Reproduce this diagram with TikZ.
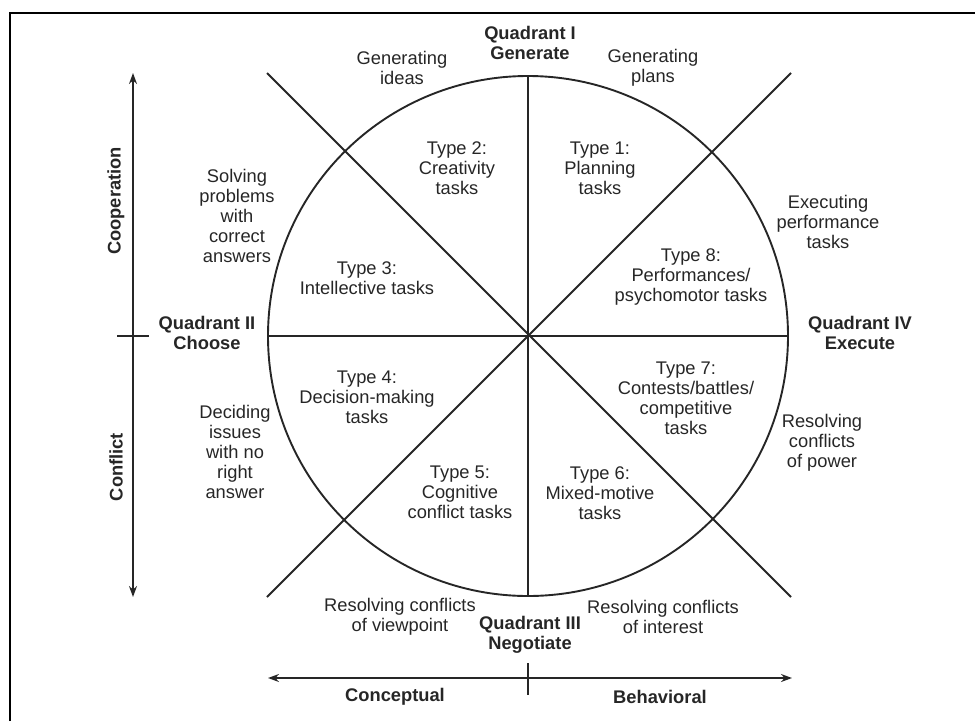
\documentclass[tikz,border=0pt]{standalone}
\usepackage{fontspec}
\setmainfont{Liberation Sans}
\usepackage{tikz}
\usetikzlibrary{arrows.meta,positioning}
\definecolor{ink}{HTML}{262626}
\tikzset{>={Stealth[length=11pt,width=8pt]},
	every node/.style={align=center, text=ink, inner sep=0pt},
	task/.style={font=\fontsize{18.3}{20}\selectfont},
	activity/.style={font=\fontsize{18.3}{20}\selectfont},
	quadrant/.style={font=\fontsize{18.3}{20}\selectfont\bfseries},
	dimension/.style={font=\fontsize{18.3}{20}\selectfont\bfseries, rotate=90},
	spoke/.style={draw=ink, line width=1.8pt},
	axis/.style={draw=ink, line width=1.6pt}}

\begin{document}
\begin{tikzpicture}[x=1pt,y=-1pt]
	\useasboundingbox (0,0) rectangle (975,721);
	\draw[line width=2.2pt] (10,721) -- (10,13) -- (975,13);
	% the wheel
	\node[draw=ink, circle, line width=1.9pt, minimum size=520pt] (wheel) at (528,336) {};
	\coordinate (nw) at (267,73);
	\coordinate (ne) at (791,73);
	\coordinate (sw) at (267,597);
	\coordinate (se) at (791,597);
	\draw[spoke] (wheel.north) -- (wheel.south);
	\draw[spoke] (wheel.west) -- (wheel.east);
	\draw[spoke] (nw) -- (se);
	\draw[spoke] (ne) -- (sw);
	% quadrants
	\node[quadrant] (q1) at (530,43) {Quadrant I\\Generate};
	\node[quadrant] (q2) at (207,333) {Quadrant II\\Choose};
	\node[quadrant] (q3) at (530,635) {Quadrant III\\Negotiate};
	\node[quadrant] (q4) at (860,333) {Quadrant IV\\Execute};
	% task types
	\node[task] (t1) at (600,168) {Type 1:\\Planning\\tasks};
	\node[task] (t2) at (457,168) {Type 2:\\Creativity\\tasks};
	\node[task] (t3) at (367,278) {Type 3:\\Intellective tasks};
	\node[task] (t4) at (367,397) {Type 4:\\Decision-making\\tasks};
	\node[task] (t5) at (460,492) {Type 5:\\Cognitive\\conflict tasks};
	\node[task] (t6) at (600,493) {Type 6:\\Mixed-motive\\tasks};
	\node[task] (t7) at (686,398) {Type 7:\\Contests/battles/\\competitive\\tasks};
	\node[task] (t8) at (691,277) {Type 8:\\Performances/\\psychomotor tasks};
	% activities
	\node[activity] (ideas) at (402,68) {Generating\\ideas};
	\node[activity] (plans) at (653,68) {Generating\\plans};
	\node[activity] (solve) at (237,216) {Solving\\problems\\with\\correct\\answers};
	\node[activity] (perform) at (828,222) {Executing\\performance\\tasks};
	\node[activity] (decide) at (235,452) {Deciding\\issues\\with no\\right\\answer};
	\node[activity] (power) at (822,443) {Resolving\\conflicts\\of power};
	\node[activity] (view) at (400,617) {Resolving conflicts\\of viewpoint};
	\node[activity] (interest) at (663,617) {Resolving conflicts\\of interest};
	% axes
	\coordinate (coop) at (133,73);
	\coordinate (confl) at (133,597);
	\draw[axis,<->] (coop) -- (confl);
	\draw[axis] (117,336) -- (149,336);
	\node[dimension] (cooperation) at (116,201) {Cooperation};
	\node[dimension] (conflict) at (116,467) {Conflict};
	\coordinate (concept) at (268,678);
	\coordinate (behave) at (792,678);
	\draw[axis,<->] (concept) -- (behave);
	\draw[axis] (528,663) -- (528,695);
	\node[quadrant] (conceptual) at (395,697) {Conceptual};
	\node[quadrant] (behavioral) at (660,697) {Behavioral};
\end{tikzpicture}
\end{document}
